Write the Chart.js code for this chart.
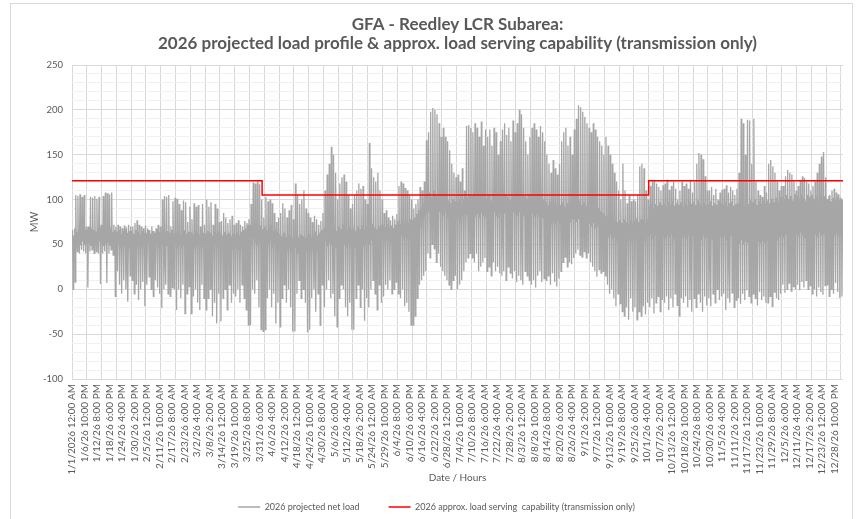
<!DOCTYPE html>
<html><head><meta charset="utf-8">
<script src="https://cdn.jsdelivr.net/npm/chart.js@4.4.1/dist/chart.umd.min.js"></script>
<style>
html,body{margin:0;padding:0;background:#fff;}
#wrap{position:relative;width:858px;height:519px;overflow:hidden;}
#frame{position:absolute;left:10px;top:3px;width:843px;height:530px;border:1px solid #d9d9d9;box-sizing:border-box;}
canvas{position:absolute;left:0;top:0;}
</style></head><body>
<div id="wrap"><div id="frame"></div><canvas id="c" width="858" height="519"></canvas></div>
<script>
// x-axis category labels (one every 142 hours)
const tickLabels = [
 '1/1/2026 12:00 AM','1/6/26 10:00 PM','1/12/26 8:00 PM','1/18/26 6:00 PM','1/24/26 4:00 PM','1/30/26 2:00 PM',
 '2/5/26 12:00 PM','2/11/26 10:00 AM','2/17/26 8:00 AM','2/23/26 6:00 AM','3/2/26 4:00 AM','3/8/26 2:00 AM',
 '3/14/26 12:00 AM','3/19/26 10:00 PM','3/25/26 8:00 PM','3/31/26 6:00 PM','4/6/26 4:00 PM','4/12/26 2:00 PM',
 '4/18/26 12:00 PM','4/24/26 10:00 AM','4/30/26 8:00 AM','5/6/26 6:00 AM','5/12/26 4:00 AM','5/18/26 2:00 AM',
 '5/24/26 12:00 AM','5/29/26 10:00 PM','6/4/26 8:00 PM','6/10/26 6:00 PM','6/16/26 4:00 PM','6/22/26 2:00 PM',
 '6/28/26 12:00 PM','7/4/26 10:00 AM','7/10/26 8:00 AM','7/16/26 6:00 AM','7/22/26 4:00 AM','7/28/26 2:00 AM',
 '8/3/26 12:00 AM','8/8/26 10:00 PM','8/14/26 8:00 PM','8/20/26 6:00 PM','8/26/26 4:00 PM','9/1/26 2:00 PM',
 '9/7/26 12:00 PM','9/13/26 10:00 AM','9/19/26 8:00 AM','9/25/26 6:00 AM','10/1/26 4:00 AM','10/7/26 2:00 AM',
 '10/13/26 12:00 AM','10/18/26 10:00 PM','10/24/26 8:00 PM','10/30/26 6:00 PM','11/5/26 4:00 PM','11/11/26 2:00 PM',
 '11/17/26 12:00 PM','11/23/26 10:00 AM','11/29/26 8:00 AM','12/5/26 6:00 AM','12/11/26 4:00 AM','12/17/26 2:00 AM',
 '12/23/26 12:00 AM','12/28/26 10:00 PM'
];

// daily peak of projected net load (MW), one row per week
const dayMax = [
 60,105,104,106,103,105,70,
 70,103,102,104,101,103,72,
 104,108,107,106,108,72,70,
 72,70,68,71,69,72,70,
 70,74,77,72,70,68,71,
 68,66,70,65,68,72,70,
 100,104,103,105,70,98,102,
 101,95,88,99,97,75,92,
 78,96,92,94,70,95,72,
 100,92,97,72,95,90,75,
 76,85,80,74,78,82,72,
 74,77,72,70,76,74,78,
 95,119,118,120,117,100,80,
 103,98,100,96,85,75,80,
 85,96,90,80,88,94,78,
 118,105,95,100,110,90,85,
 80,75,82,78,72,76,85,
 110,128,140,159,150,130,100,
 118,125,128,120,105,90,95,
 105,110,118,112,115,100,95,
 163,135,125,120,130,110,100,
 85,88,80,77,82,78,84,
 115,120,118,113,110,105,100,
 90,95,100,114,110,120,166,
 175,198,202,200,195,185,170,
 180,170,165,155,140,130,125,
 128,120,135,110,182,183,180,
 175,185,180,170,187,160,178,
 170,178,160,180,175,150,165,
 178,185,172,180,165,188,175,
 185,200,195,180,165,150,170,
 180,185,178,170,182,175,165,
 150,140,130,144,135,128,140,
 165,175,180,160,170,150,178,
 190,205,203,198,192,185,180,
 175,185,178,170,165,160,150,
 170,160,150,140,130,120,110,
 100,140,110,96,105,98,100,
 98,105,137,140,135,110,100,
 115,120,122,118,114,110,116,
 118,122,111,115,120,112,100,
 110,120,115,118,112,122,108,
 120,140,152,150,145,126,110,
 110,114,105,112,100,108,111,
 112,116,108,114,110,105,112,
 130,190,185,150,189,188,140,
 190,120,110,105,103,115,108,
 140,144,137,130,120,110,115,
 115,126,133,130,128,120,110,
 115,122,126,124,120,118,110,
 115,120,130,140,148,153,125,
 100,105,110,112,108,106,102,
 100
];

// daily minimum of projected net load (MW), one row per week
const dayMin = [
 0,8,42,40,44,42,40,
 2,42,44,40,42,40,6,
 40,42,7,40,44,38,-8,
 20,5,-5,10,0,-14,15,
 10,-5,5,-12,0,8,-19,
 5,14,0,-8,10,2,-5,
 -21,0,5,-5,-8,2,0,
 -23,0,-10,5,-27,-5,3,
 -27,-8,0,-15,-23,5,-10,
 -23,-10,0,-30,-15,-38,-5,
 -36,-10,0,-23,5,-15,-5,
 -8,0,-15,5,-10,-23,-40,
 -40,0,-5,10,-20,-45,-47,
 -45,-10,0,-20,-5,-38,-15,
 -42,-10,5,-15,0,-20,-47,
 -47,-5,10,-10,0,-15,-48,
 -45,-10,0,-25,-5,-40,5,
 -20,0,10,-10,-5,-30,-42,
 -10,5,0,-20,-30,-15,-45,
 -45,-10,5,-20,0,-35,-10,
 -20,0,10,-5,-23,5,-15,
 -8,5,0,10,-5,0,8,
 -5,-10,0,-19,-15,-25,-40,
 -40,-30,-10,5,10,15,20,
 40,35,50,45,30,40,25,
 20,15,10,5,0,10,15,
 0,5,10,20,30,35,40,
 35,30,40,20,25,30,35,
 20,25,15,30,20,25,18,
 15,20,10,25,18,12,20,
 8,15,10,5,20,15,10,
 5,10,2,15,20,8,12,
 10,15,5,18,8,3,12,
 20,30,36,25,30,28,35,
 40,44,38,36,42,35,40,
 30,25,20,14,22,18,20,
 15,5,-5,0,-10,-19,-5,
 -16,-25,-30,-20,-34,-10,-25,
 -20,-34,-25,-30,-19,-28,-15,
 -20,-10,-27,-15,-8,-25,-12,
 -15,-8,-23,-10,-20,-5,-18,
 -30,-10,-15,-8,-20,-12,-25,
 -10,-20,-5,-15,-25,-8,-18,
 -10,-19,-5,-15,0,-12,-8,
 -5,-23,-10,-15,-4,-20,-12,
 -10,-16,-5,-12,-1,-8,-15,
 -5,-10,-18,-3,-12,-8,-15,
 -15,-8,-19,-3,-10,-12,-5,
 5,-4,0,7,-2,3,0,
 5,-1,8,2,10,0,4,
 -5,0,-8,2,-3,-6,4,
 5,-8,0,-5,7,-3,-10,
 -8
];

// daily night-time (low) load level (MW)
const dayNight = [
 52,50,48,51,49,53,50, 50,52,49,47,51,50,53, 51,48,50,52,49,47,50, 48,50,46,52,49,51,47,
 50,47,52,48,50,46,49, 49,52,47,50,48,51,46, 47,50,45,49,46,50,48, 48,45,50,46,49,47,44,
 46,49,45,48,50,46,48, 45,48,50,46,44,49,47, 47,44,46,49,45,48,44, 46,48,44,47,50,52,55,
 54,50,56,52,49,53,50, 52,48,50,54,46,50,47, 44,42,46,40,43,45,41, 42,46,40,44,42,39,43,
 45,41,44,47,43,46,48, 50,53,48,52,49,51,47, 52,49,54,50,47,52,49, 50,47,52,49,53,48,51,
 53,50,55,51,48,52,54, 56,53,57,54,55,52,56, 58,55,60,57,59,56,58, 57,60,62,66,70,75,80,
 84,87,83,88,85,82,86, 85,82,86,80,78,81,79, 78,80,76,82,85,84,86, 83,86,81,84,80,85,82,
 81,84,79,83,86,82,80, 84,81,85,82,79,83,86, 85,82,86,80,83,81,84, 82,85,80,83,81,78,80,
 77,74,78,72,75,73,76, 74,77,72,76,73,75,78, 78,75,79,74,77,73,76, 73,70,74,68,71,67,65,
 62,60,58,61,56,58,55, 56,54,58,55,53,57,54, 55,58,54,57,56,53,57, 58,61,56,60,57,59,62,
 59,56,60,58,61,57,60, 58,61,57,59,56,60,58, 60,57,61,58,55,59,57, 58,60,56,59,57,61,58,
 57,59,55,58,60,56,58, 54,51,55,50,53,52,55, 52,55,50,53,51,54,52, 55,52,56,53,57,54,58,
 60,57,62,59,61,58,63, 61,59,63,60,58,62,60, 62,59,61,58,63,60,62, 60,63,58,61,59,62,60,
 60
];

// daily morning / evening shoulder load level (MW)
const dayShoulder = [
 66,68,64,67,65,69,66, 67,65,68,66,64,67,69, 66,68,65,67,69,64,66, 64,66,62,65,67,63,65,
 65,62,66,64,61,65,63, 63,66,62,65,63,67,64, 64,66,62,65,63,66,62, 63,65,61,64,66,62,64,
 64,62,66,63,61,65,63, 62,65,63,60,64,62,65, 63,60,64,61,63,59,62, 61,63,60,64,66,68,72,
 72,69,74,70,68,71,67, 70,66,68,72,65,67,64, 62,59,63,58,61,60,57, 60,63,58,61,59,57,60,
 62,58,61,64,60,63,66, 68,72,66,70,67,69,65, 70,67,72,68,66,70,67, 68,65,70,67,71,66,69,
 71,68,73,69,67,70,72, 72,69,73,70,71,68,72, 76,73,79,75,77,74,78, 77,80,84,88,92,96,100,
 104,108,103,110,106,102,107, 106,102,105,99,96,100,98, 97,100,95,101,104,103,106, 104,107,101,105,100,106,103,
 102,106,99,104,107,103,100, 105,101,106,103,99,104,107, 106,102,107,100,104,101,105, 103,106,100,104,101,98,100,
 97,94,98,92,95,93,96, 94,97,92,96,93,95,98, 98,95,99,94,97,93,96, 93,90,94,88,91,87,85,
 82,80,78,81,76,78,75, 77,74,78,75,73,77,74, 76,79,75,78,77,74,78, 92,96,90,95,93,97,94,
 95,92,97,94,98,93,96, 94,97,92,96,93,98,95, 97,94,99,95,92,96,94, 95,98,93,96,94,99,96,
 94,97,92,96,98,93,95, 96,93,98,92,97,95,99, 97,100,94,98,95,99,96, 99,96,101,97,102,98,103,
 103,100,105,101,104,99,106, 104,101,106,102,99,105,103, 105,101,104,99,106,102,104, 101,104,98,102,100,103,99,
 100
];

// approx. load serving capability (MW) step points
const capHours  = [0, 2160, 2160, 6552, 6552, 8760];
const capValues = [121, 121, 105, 105, 121, 121];

const netLoad = [];
for (let d = 0; d < dayMax.length; d++) {
  const h = d * 24;
  netLoad.push({x: h + 1, y: dayNight[d]}, {x: h + 7, y: dayShoulder[d]},
               {x: h + 12, y: dayMin[d]}, {x: h + 19, y: dayMax[d]});
}
const capability = capHours.map((x, i) => ({x, y: capValues[i]}));

Chart.defaults.font.family = "Lato, 'Liberation Sans', sans-serif";
Chart.defaults.color = '#595959';

const LABEL_STEP = 142, GRID_STEP = 168;

new Chart(document.getElementById('c'), {
  type: 'line',
  data: {
    datasets: [
      {label: '2026 projected net load', data: netLoad, borderColor: '#a6a6a6', backgroundColor: '#a6a6a6',
       borderWidth: 1.3, pointRadius: 0, tension: 0, order: 1},
      {label: '2026 approx. load serving  capability (transmission only)', data: capability, borderColor: '#ff0000',
       backgroundColor: '#ff0000', borderWidth: 1.5, pointRadius: 0, tension: 0, order: 0}
    ]
  },
  options: {
    responsive: false, animation: false, devicePixelRatio: 1,
    layout: {padding: {top: 15.5, left: 30, right: 15, bottom: -2.5}},
    plugins: {
      tooltip: {enabled: false},
      title: {display: true, fullSize: false,
        text: ['GFA - Reedley LCR Subarea:', '2026 projected load profile & approx. load serving capability (transmission only)'],
        color: '#595959', font: {size: 17, weight: 'bold', lineHeight: 19/17}, padding: {top: 0, bottom: 11.5}},
      legend: {position: 'bottom',
        labels: {usePointStyle: true, pointStyle: 'line', pointStyleWidth: 22, padding: 29, color: '#595959', font: {size: 9},
          sort: (a, b) => a.datasetIndex - b.datasetIndex}}
    },
    scales: {
      x: {
        type: 'linear', min: 0, max: 8760,
        afterBuildTicks: (s) => {
          const vals = new Set();
          for (let i = 0; i < tickLabels.length; i++) vals.add(i * LABEL_STEP);
          for (let v = 0; v <= 8760; v += GRID_STEP) vals.add(v);
          s.ticks = [...vals].sort((a, b) => a - b).map(v => ({value: v}));
        },
        afterFit: (s) => { s.height = 94.5; },
        ticks: {autoSkip: false, minRotation: 90, maxRotation: 90, padding: 5, color: '#595959', font: {size: 10},
          callback: (v) => (v % LABEL_STEP === 0 ? tickLabels[v / LABEL_STEP] : '')},
        grid: {drawTicks: false, color: (ctx) => (ctx.tick && ctx.tick.value % GRID_STEP === 0 ? '#d9d9d9' : 'rgba(0,0,0,0)')},
        border: {display: false},
        title: {display: true, text: 'Date / Hours', color: '#595959', font: {size: 10}, padding: {top: 0, bottom: -9.8}}
      },
      y: {
        min: -100, max: 250,
        afterFit: (s) => { s.width = 42; },
        ticks: {stepSize: 10, autoSkip: false, padding: 9, color: '#595959', font: {size: 9.5},
          callback: (v) => (v % 50 === 0 ? String(v) : '')},
        grid: {drawTicks: false, color: (ctx) => (ctx.tick && ctx.tick.value % 50 === 0 ? '#d9d9d9' : '#f0f0f0')},
        border: {display: false},
        title: {display: true, text: 'MW', color: '#595959', font: {size: 10.5}, padding: {top: -1.3, bottom: 0}}
      }
    }
  }
});
</script>
</body></html>
